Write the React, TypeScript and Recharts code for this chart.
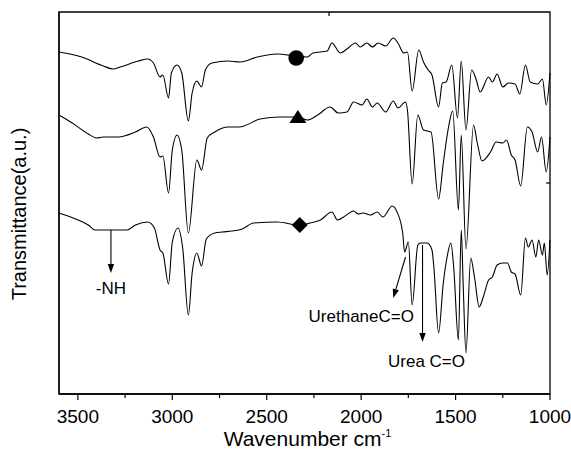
import React from 'react';
import { LineChart, Line, XAxis, YAxis, ReferenceDot, ReferenceLine, ReferenceArea } from 'recharts';

// [wavenumber, transmittance (a.u., offset)]
const circleSpectrum: [number, number][] = [
  [3600, 342], [3480, 337], [3365, 328], [3315, 325], [3275, 327], [3180, 333], [3130, 335], [3100, 331],
  [3065, 317], [3050, 319], [3020, 296], [3005, 321], [2975, 329], [2950, 321], [2915, 273], [2895, 301],
  [2870, 313], [2845, 307], [2825, 324], [2790, 331], [2705, 333], [2640, 332], [2550, 337], [2445, 340],
  [2345, 338], [2285, 337], [2255, 341], [2180, 343], [2155, 351], [2110, 341], [2075, 345], [2030, 351],
  [2005, 347], [1970, 351], [1940, 347], [1910, 351], [1870, 348], [1830, 356], [1805, 351], [1775, 341],
  [1755, 342], [1730, 303], [1695, 344], [1670, 332], [1645, 324], [1625, 319], [1590, 287], [1570, 311],
  [1550, 312], [1520, 329], [1490, 276], [1470, 333], [1445, 264], [1415, 324], [1390, 314], [1370, 302],
  [1325, 317], [1305, 312], [1280, 320], [1250, 307], [1220, 311], [1185, 310], [1160, 300], [1130, 329],
  [1105, 312], [1065, 310], [1040, 315], [1020, 289], [1000, 321],
];

const triangleSpectrum: [number, number][] = [
  [3600, 279], [3530, 271], [3445, 260], [3400, 256], [3365, 257], [3285, 257], [3195, 262], [3135, 267],
  [3100, 257], [3065, 237], [3050, 238], [3020, 201], [3000, 244], [2975, 259], [2950, 244], [2915, 161],
  [2870, 234], [2845, 224], [2815, 256], [2775, 262], [2705, 267], [2645, 267], [2535, 275], [2430, 277],
  [2335, 277], [2285, 274], [2230, 279], [2165, 287], [2120, 281], [2075, 282], [2040, 292], [1995, 289],
  [1970, 295], [1940, 287], [1915, 291], [1870, 282], [1830, 293], [1805, 286], [1765, 292], [1755, 284],
  [1730, 210], [1700, 279], [1670, 264], [1630, 262], [1590, 195], [1565, 231], [1540, 264], [1515, 283],
  [1485, 184], [1470, 259], [1445, 145], [1405, 269], [1385, 251], [1360, 233], [1315, 242], [1285, 252],
  [1250, 251], [1230, 254], [1205, 239], [1185, 234], [1155, 208], [1120, 267], [1095, 262], [1065, 242],
  [1045, 257], [1020, 222], [1000, 257],
];

const diamondSpectrum: [number, number][] = [
  [3600, 181], [3525, 176], [3445, 169], [3410, 164], [3240, 164], [3195, 169], [3130, 172], [3095, 166],
  [3065, 144], [3050, 141], [3020, 110], [3000, 152], [2970, 166], [2945, 146], [2915, 79], [2895, 121],
  [2870, 141], [2845, 128], [2820, 155], [2775, 161], [2735, 162], [2685, 163], [2630, 165], [2570, 171],
  [2445, 172], [2330, 169], [2270, 171], [2215, 174], [2155, 182], [2125, 174], [2085, 178], [2040, 183],
  [2015, 180], [1990, 181], [1950, 179], [1915, 182], [1885, 177], [1835, 188], [1810, 182], [1780, 161],
  [1770, 142], [1750, 152], [1730, 89], [1700, 149], [1685, 151], [1650, 151], [1625, 144], [1615, 127],
  [1590, 61], [1565, 111], [1545, 137], [1525, 151], [1510, 127], [1485, 54], [1470, 164], [1460, 111],
  [1445, 41], [1420, 136], [1400, 117], [1375, 87], [1355, 96], [1325, 114], [1305, 117], [1280, 129],
  [1250, 131], [1225, 131], [1205, 122], [1185, 120], [1155, 99], [1130, 156], [1115, 147], [1095, 154],
  [1075, 137], [1060, 154], [1040, 139], [1030, 151], [1015, 119], [1000, 154],
];

const majorTicks = [3500, 3000, 2500, 2000, 1500, 1000];
const minorTicks = [3250, 2750, 2250, 1750, 1250];
const leftTicks = [64, 276];
const rightTicks = [211];
const topTicks = [2170];

const markers = [
  { wn: 2344, t: 336, kind: 'circle' },
  { wn: 2335, t: 277, kind: 'triangle' },
  { wn: 2325, t: 169, kind: 'diamond' },
];

const annotations = [
  { text: '-NH', from: [3325, 164], to: [3325, 121] },
  { text: 'UrethaneC=O', from: [1765, 137], to: [1830, 96] },
  { text: 'Urea C=O', from: [1675, 149], to: [1675, 52] },
];

const FONT = '"Liberation Sans", Arial, sans-serif';
const toRows = (s: [number, number][]) => s.map(([wn, t]) => ({ wn, t }));

const textOffset: Record<string, [number, number]> = {
  '-NH': [0, 21],
  'UrethaneC=O': [-32, 24],
  'Urea C=O': [4, 25],
};

const BottomTick = (props: any) => {
  const { x, y, payload } = props;
  const major = majorTicks.includes(payload.value);
  return (
    <g>
      <line x1={x} y1={y} x2={x} y2={y + (major ? 6 : 4)} stroke="#000" strokeWidth={1.2} />
      {major && (
        <text x={x} y={y + 29} textAnchor="middle" fontSize={19} fontFamily={FONT} fill="#000">
          {payload.value}
        </text>
      )}
    </g>
  );
};

const markerShape = (kind: string) => (props: any) => {
  const { cx, cy } = props;
  if (kind === 'circle') return <circle cx={cx} cy={cy} r={7.8} fill="#000" />;
  if (kind === 'triangle')
    return <polygon points={`${cx},${cy - 7} ${cx + 8.5},${cy + 6} ${cx - 8.5},${cy + 6}`} fill="#000" />;
  return <polygon points={`${cx},${cy - 8} ${cx + 8},${cy} ${cx},${cy + 8} ${cx - 8},${cy}`} fill="#000" />;
};

const arrowShape = (text: string) => (props: any) => {
  const { x1, y1, x2, y2 } = props;
  const ang = Math.atan2(y2 - y1, x2 - x1);
  const len = 9;
  const half = 3.2;
  const bx = x2 - len * Math.cos(ang);
  const by = y2 - len * Math.sin(ang);
  const px = -Math.sin(ang) * half;
  const py = Math.cos(ang) * half;
  const [dx, dy] = textOffset[text];
  return (
    <g>
      <line x1={x1} y1={y1} x2={bx} y2={by} stroke="#000" strokeWidth={1.1} />
      <polygon points={`${x2},${y2} ${bx + px},${by + py} ${bx - px},${by - py}`} fill="#000" />
      <text x={x2 + dx} y={y2 + dy} textAnchor="middle" fontSize={17} fontFamily={FONT} fill="#000">
        {text}
      </text>
    </g>
  );
};

// short inward tick on the top / right frame
const innerTick = (dir: 'down' | 'left') => (props: any) => {
  const { x1, y1 } = props;
  return dir === 'down' ? (
    <line x1={x1} y1={y1} x2={x1} y2={y1 + 4} stroke="#000" strokeWidth={1.2} />
  ) : (
    <line x1={x1} y1={y1} x2={x1 - 4} y2={y1} stroke="#000" strokeWidth={1.2} />
  );
};

const XTitle = (props: any) => {
  const vb = props.viewBox || { x: 59, width: 491, y: 394 };
  const cx = vb.x + vb.width / 2 + 3;
  return (
    <text x={cx} y={446} textAnchor="middle" fontSize={21} fontFamily={FONT} fill="#000">
      Wavenumber cm
      <tspan dy={-9} fontSize={11}>-1</tspan>
    </text>
  );
};

const YTitle = (props: any) => {
  const vb = props.viewBox || { y: 12, height: 382 };
  const cy = vb.y + vb.height / 2 + 11;
  return (
    <text x={26} y={cy} transform={`rotate(-90 26 ${cy})`} textAnchor="middle" fontSize={20} fontFamily={FONT} fill="#000">
      Transmittance(a.u.)
    </text>
  );
};

const frame = { stroke: '#000', strokeWidth: 1.3 };

export default function App() {
  return (
    <div style={{ position: 'absolute', left: 0, top: 0, background: '#fff' }}>
      <LineChart width={571} height={452} margin={{ top: 12, right: 21, bottom: 0, left: 0 }}>
        <XAxis
          dataKey="wn"
          type="number"
          domain={[1000, 3600]}
          reversed
          ticks={[...majorTicks, ...minorTicks].sort((a, b) => b - a)}
          interval={0}
          tickLine={false}
          tickSize={0}
          tickMargin={0}
          tick={<BottomTick />}
          axisLine={frame}
          height={58}
          label={{ content: <XTitle /> }}
        />
        <YAxis
          type="number"
          domain={[0, 382]}
          ticks={leftTicks}
          tick={false}
          tickSize={6}
          tickLine={{ stroke: '#000' }}
          axisLine={frame}
          width={59}
          label={{ content: <YTitle /> }}
        />
        <ReferenceArea x1={3600} x2={1000} y1={0} y2={382} fill="none" stroke="#000" strokeWidth={1.3} fillOpacity={0} />
        {topTicks.map((v) => (
          <ReferenceLine key={`t${v}`} segment={[{ x: v, y: 382 }, { x: v, y: 382 }]} shape={innerTick('down')} />
        ))}
        {rightTicks.map((v) => (
          <ReferenceLine key={`r${v}`} segment={[{ x: 1000, y: v }, { x: 1000, y: v }]} shape={innerTick('left')} />
        ))}
        {[circleSpectrum, triangleSpectrum, diamondSpectrum].map((s, i) => (
          <Line
            key={i}
            data={toRows(s)}
            dataKey="t"
            type="monotone"
            stroke="#000"
            strokeWidth={1.1}
            dot={false}
            isAnimationActive={false}
          />
        ))}
        {markers.map((m) => (
          <ReferenceDot key={m.kind} x={m.wn} y={m.t} r={8} shape={markerShape(m.kind)} />
        ))}
        {annotations.map((a) => (
          <ReferenceLine
            key={a.text}
            segment={[{ x: a.from[0], y: a.from[1] }, { x: a.to[0], y: a.to[1] }]}
            shape={arrowShape(a.text)}
          />
        ))}
      </LineChart>
    </div>
  );
}
